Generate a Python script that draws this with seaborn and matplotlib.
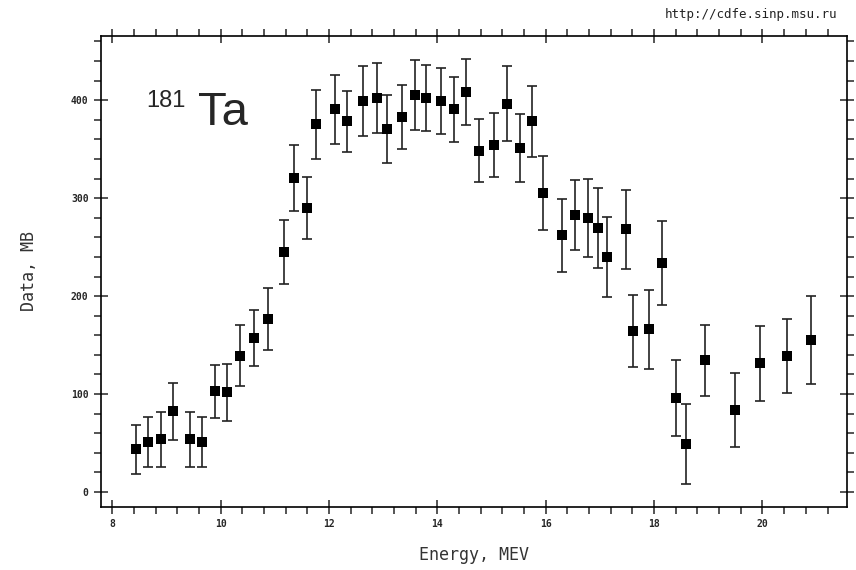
import numpy as np
import pandas as pd
import matplotlib
matplotlib.use("Agg")
import matplotlib.pyplot as plt
import seaborn as sns
from matplotlib.ticker import MultipleLocator

# --- data ---
energy = [8.44, 8.65, 8.89, 9.11, 9.43, 9.66, 9.90, 10.11, 10.36, 10.62,
          10.87, 11.16, 11.35, 11.60, 11.75, 12.11, 12.33, 12.62, 12.89, 13.07,
          13.35, 13.59, 13.78, 14.07, 14.31, 14.53, 14.76, 15.05, 15.29, 15.53,
          15.75, 15.94, 16.29, 16.54, 16.77, 16.96, 17.13, 17.48, 17.61, 17.91,
          18.15, 18.40, 18.59, 18.94, 19.50, 19.96, 20.45, 20.90]
cross_section = [43.6, 51, 53.8, 82.3, 53.8, 51, 103, 101.7, 139, 157,
                 176.5, 245, 320.4, 290, 375.2, 390.5, 378.6, 399, 402.4, 370.7,
                 383, 405.1, 402.4, 399, 390.5, 408.2, 348.3, 354.4, 396.6, 351.3,
                 378.3, 305.1, 261.9, 282.7, 279.6, 269.4, 239.8, 268, 164.6, 166,
                 233.7, 95.9, 49.3, 134.4, 83.7, 131.3, 139.1, 155.4]
error = [25, 25.5, 28, 29, 28, 25.5, 27, 29, 31, 28.5,
         32, 33, 34, 32, 35.6, 35, 31, 36, 36, 34.5,
         33, 36, 34, 33.5, 33.6, 33.6, 32, 33, 38, 35,
         36, 38, 37, 36, 40, 41, 41, 40, 36.5, 40,
         42.5, 39, 41, 36.5, 38, 38, 38, 45]

df = pd.DataFrame({"energy": energy, "data": cross_section, "err": error})

sns.set_style("ticks")
plt.rcParams["font.family"] = ["DejaVu Sans Mono", "DejaVu Sans"]

fig = plt.figure(figsize=(8.56, 5.70), dpi=100)
ax = fig.add_axes([0.118, 0.111, 0.8715, 0.826])

ax.errorbar(df["energy"], df["data"], yerr=df["err"], fmt="none",
            ecolor="#222222", elinewidth=1.2, capsize=3.5, capthick=1.2, zorder=2)
sns.scatterplot(data=df, x="energy", y="data", marker="s", s=52, color="black",
                edgecolor="black", linewidth=0, ax=ax, zorder=3, legend=False)

ax.set_xlim(7.79, 21.56)
ax.set_ylim(-15, 465.6)
ax.xaxis.set_major_locator(MultipleLocator(2))
ax.xaxis.set_minor_locator(MultipleLocator(0.4))
ax.yaxis.set_major_locator(MultipleLocator(100))
ax.yaxis.set_minor_locator(MultipleLocator(20))

for side in ["top", "right", "bottom", "left"]:
    ax.spines[side].set_visible(True)
    ax.spines[side].set_linewidth(1.2)
    ax.spines[side].set_color("black")
ax.tick_params(which="major", direction="inout", length=10, width=1.1,
               top=True, right=True, labelsize=7, pad=4)
ax.tick_params(which="minor", direction="out", length=5, width=1.1,
               top=True, right=True)
for lab in ax.get_xticklabels() + ax.get_yticklabels():
    lab.set_fontweight("bold")

ax.set_xlabel("Energy, MEV", fontsize=12, labelpad=12, color="#333333")
ax.set_ylabel("Data, MB", fontsize=12, labelpad=24, color="#333333")

# isotope label: superscript mass number + element symbol
fig.text(0.1706, 0.842, "181", fontsize=17, family="Liberation Sans",
         ha="left", va="top")
fig.text(0.2313, 0.7807, "Ta", fontsize=34, family="Liberation Sans",
         ha="left", va="baseline")
fig.text(0.978, 0.975, "http://cdfe.sinp.msu.ru", fontsize=9, ha="right",
         va="center", color="#222222")

fig.savefig("out.png", dpi=100)
